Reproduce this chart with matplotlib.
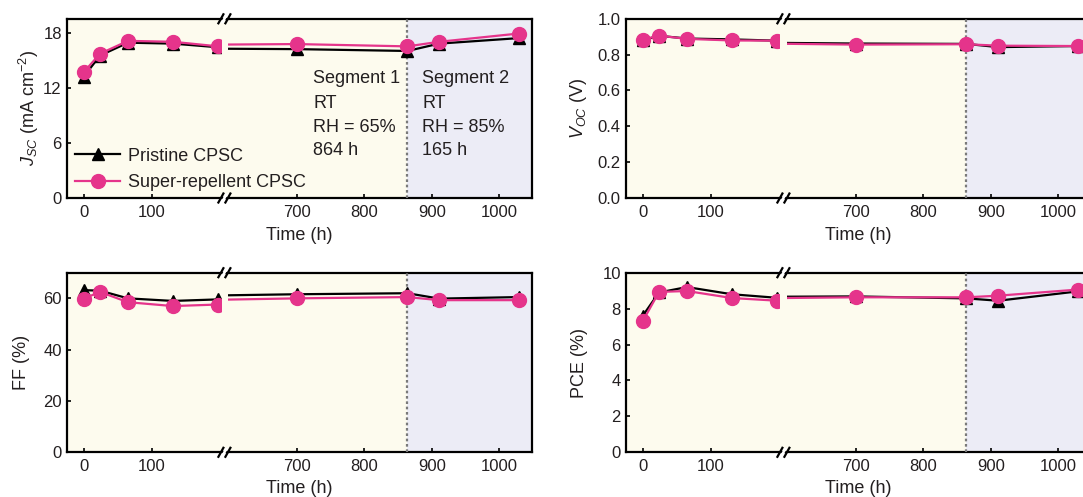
import matplotlib
matplotlib.use('Agg')
import matplotlib.pyplot as plt
from matplotlib import transforms
from matplotlib.lines import Line2D
from matplotlib.patches import Rectangle, Polygon
from matplotlib.ticker import FormatStrFormatter

plt.rcParams['font.family'] = ['Liberation Sans', 'DejaVu Sans']
plt.rcParams['mathtext.fontset'] = 'custom'
plt.rcParams['mathtext.rm'] = 'Liberation Sans'
plt.rcParams['mathtext.it'] = 'Liberation Sans:italic'
plt.rcParams['mathtext.bf'] = 'Liberation Sans:bold'

# ---------------- data ----------------
hours = [0, 24, 65, 131, 198, 700, 864, 911, 1029]

jsc_pristine = [13.2, 15.5, 16.9, 16.8, 16.4, 16.2, 16.0, 16.8, 17.4]
jsc_repellent = [13.7, 15.7, 17.1, 17.0, 16.5, 16.75, 16.5, 17.0, 17.9]

voc_pristine = [0.880, 0.905, 0.890, 0.885, 0.878, 0.862, 0.860, 0.842, 0.848]
voc_repellent = [0.884, 0.906, 0.888, 0.879, 0.878, 0.856, 0.858, 0.850, 0.848]

ff_pristine = [63.2, 63.0, 60.0, 59.0, 59.6, 61.6, 62.0, 59.9, 60.5]
ff_repellent = [59.9, 62.5, 58.5, 57.0, 57.6, 60.0, 60.5, 59.3, 59.3]

pce_pristine = [7.6, 8.9, 9.2, 8.8, 8.6, 8.68, 8.57, 8.44, 8.96]
pce_repellent = [7.3, 8.93, 8.98, 8.59, 8.44, 8.63, 8.63, 8.72, 9.06]

series_names = ['Pristine CPSC', 'Super-repellent CPSC']
left_ticks = [0, 100]
right_ticks = [700, 800, 900, 1000]
segment_split = 864
segment1_text = ['Segment 1', 'RT', 'RH = 65%', '864 h']
segment2_text = ['Segment 2', 'RT', 'RH = 85%', '165 h']

# ---------------- style ----------------
W, H = 1083, 497
YELLOW = '#FDFBEE'
LAV = '#ECECF6'
PINK = '#E5348B'
TXT = '#231F20'

fig = plt.figure(figsize=(W / 100, H / 100), dpi=100)
fig.patch.set_facecolor('white')


def pxrect(l, t, r, b):
    return [l / W, 1 - b / H, (r - l) / W, (b - t) / H]


def fpt(x, y):
    return (x / W, 1 - y / H)


rows = [(18.8, 198.0), (272.7, 452.3)]
cols = [0.0, 559.0]
FL, FR = 66.7, 532.3
DL_R, DR_L = 220.5, 228.3
XL = (-25, 201)
XR = (599, 1048.8)

panels = [
    dict(row=0, col=0, p=jsc_pristine, r=jsc_repellent, ylim=(0, 19.5), yticks=[0, 6, 12, 18],
         ylabel=r'$J_{\mathit{SC}}$ (mA cm$^{-2}$)', lx=-0.081, fmt='%d'),
    dict(row=0, col=1, p=voc_pristine, r=voc_repellent, ylim=(0, 1.0), yticks=[0, 0.2, 0.4, 0.6, 0.8, 1.0],
         ylabel=r'$V_{\mathit{OC}}$ (V)', lx=-0.102, fmt='%.1f'),
    dict(row=1, col=0, p=ff_pristine, r=ff_repellent, ylim=(0, 70), yticks=[0, 20, 40, 60],
         ylabel='FF (%)', lx=-0.097, fmt='%d'),
    dict(row=1, col=1, p=pce_pristine, r=pce_repellent, ylim=(0, 10), yticks=[0, 2, 4, 6, 8, 10],
         ylabel='PCE (%)', lx=-0.100, fmt='%d'),
]

jsc_frame = None
jsc_right = None
handles = None

for pn in panels:
    top, bot = rows[pn['row']]
    ox = cols[pn['col']]
    frame = fig.add_axes(pxrect(FL + ox, top, FR + ox, bot), zorder=0)
    frame.set_facecolor(YELLOW)
    frame.set_xlim(0, 1)
    frame.set_ylim(*pn['ylim'])
    frame.set_xticks([])
    frame.set_yticks(pn['yticks'])
    frame.yaxis.set_major_formatter(FormatStrFormatter(pn['fmt']))
    frame.tick_params(axis='y', direction='in', length=3, width=1.2, pad=3.5,
                      labelsize=12, colors='black', labelcolor=TXT)
    for s in frame.spines.values():
        s.set_linewidth(1.6)
        s.set_zorder(3)
    frame.set_ylabel(pn['ylabel'], fontsize=13, color=TXT)
    frame.yaxis.label.set_va('center')
    frame.yaxis.set_label_coords(pn['lx'], 0.5)
    frame.set_xlabel('Time (h)', fontsize=13, color=TXT)
    frame.xaxis.label.set_va('center')
    frame.xaxis.set_label_coords(0.5, -0.212 if pn['row'] == 0 else -0.204)

    axL = fig.add_axes(pxrect(FL + ox, top, DL_R + ox, bot), zorder=1)
    axR = fig.add_axes(pxrect(DR_L + ox, top, FR + ox, bot), zorder=1)
    for ax, xl, xt in ((axL, XL, left_ticks), (axR, XR, right_ticks)):
        ax.patch.set_alpha(0)
        for s in ax.spines.values():
            s.set_visible(False)
        ax.set_xlim(*xl)
        ax.set_ylim(*pn['ylim'])
        ax.set_yticks([])
        ax.set_xticks(xt)
        ax.tick_params(axis='x', direction='in', length=3, width=1.2, pad=5,
                       labelsize=12, labelcolor=TXT)
        hb, = ax.plot(hours, pn['p'], color='black', lw=1.6, marker='^', ms=9,
                      label=series_names[0], zorder=3)
        hp, = ax.plot(hours, pn['r'], color=PINK, lw=1.6, marker='o', ms=10,
                      label=series_names[1], zorder=4)
        if handles is None:
            handles = [hb, hp]

    # lavender background for segment 2
    tr = transforms.blended_transform_factory(axR.transData, frame.transAxes)
    frame.add_patch(Rectangle((segment_split, 0), 400, 1, transform=tr,
                              facecolor=LAV, edgecolor='none', zorder=0.5))
    axR.axvline(segment_split, color='#7A7A7A', ls=(0, (1.2, 1.2)), lw=1.6, zorder=1)

    # break marks
    xb = 224.4 + ox
    for yb in (top, bot):
        poly = Polygon([fpt(xb - 4, yb + 4.5), fpt(xb + 1, yb - 4.5),
                        fpt(xb + 4, yb - 4.5), fpt(xb - 1, yb + 4.5)],
                       closed=True, transform=fig.transFigure, facecolor='white',
                       edgecolor='none', zorder=10)
        fig.add_artist(poly)
        for dx in (-3.5, 3.5):
            fig.add_artist(Line2D([(xb + dx - 2.5) / W, (xb + dx + 2.5) / W],
                                  [1 - (yb + 4.5) / H, 1 - (yb - 4.5) / H],
                                  transform=fig.transFigure, color='black', lw=1.6,
                                  zorder=11))

    if pn['row'] == 0 and pn['col'] == 0:
        jsc_frame = frame
        jsc_right = axR

# legend in J_SC panel
leg = jsc_frame.legend(handles=handles, loc='lower left', bbox_to_anchor=(0.018, 0.04),
                       frameon=False, fontsize=13, handlelength=2.5, handletextpad=0.45,
                       labelspacing=0.5, borderpad=0, borderaxespad=0, numpoints=1)
for t in leg.get_texts():
    t.set_color(TXT)

# segment annotations
yvals = [13.0, 10.25, 7.65, 5.15]
for txt, yv in zip(segment1_text, yvals):
    jsc_right.text(725, yv, txt, fontsize=13, color=TXT, va='center', ha='left')
for txt, yv in zip(segment2_text, yvals):
    jsc_right.text(886, yv, txt, fontsize=13, color=TXT, va='center', ha='left')

fig.savefig('out.png', dpi=100)
